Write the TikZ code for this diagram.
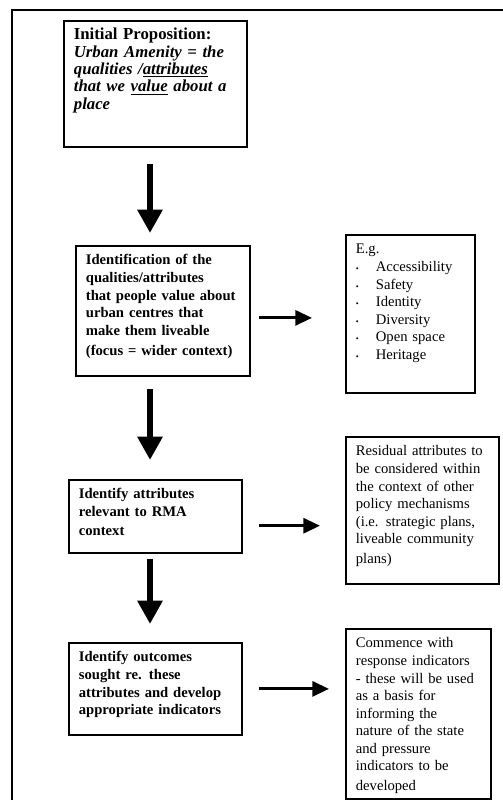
\documentclass[tikz,border=0pt]{standalone}
\usepackage{fontspec}
\setmainfont{Liberation Serif}
\usetikzlibrary{arrows.meta,positioning}
\newcommand{\itm}[1]{\makebox[0.6cm][l]{\scriptsize\textbullet}#1}

\begin{document}
\begin{tikzpicture}[x=0.03cm,y=-0.03cm,font=\fontsize{12.5}{15}\selectfont,
 box/.style={draw,line width=1.5pt,anchor=north west,align=left,inner xsep=0.3cm,inner ysep=0.1cm,text height=0.47cm},
 darr/.style={line width=5pt,-{Triangle[width=0.72cm,length=0.7cm]}},
 rarr/.style={line width=2.6pt,-{Triangle[width=0.45cm,length=0.5cm]}}]
\useasboundingbox (0,0) rectangle (503,800);
\draw[line width=1.5pt] (12,800) -- (12,10) -- (503,10);
% left column
\node[box,text width=4.89cm,text depth=3.11cm,font=\fontsize{14.3}{14.8}\selectfont] (init) at (63,20)
 {\textbf{Initial Proposition:}\\\textbf{\textit{Urban Amenity = the}}\\\textbf{\textit{qualities /\underline{attributes}}}\\\textbf{\textit{that we \underline{value} about a}}\\\textbf{\textit{place}}};
\node[box,text width=4.62cm,text depth=3.23cm] (ident) at (75,245)
 {\textbf{Identification of the}\\\textbf{qualities/attributes}\\\textbf{that people value about}\\\textbf{urban centres that}\\\textbf{make them liveable}\\[0.08cm]\textbf{(focus = wider context)}};
\node[box,text width=4.59cm,text depth=1.52cm] (rma) at (68,479)
 {\textbf{Identify attributes}\\\textbf{relevant to RMA}\\[0.05cm]\textbf{context}};
\node[box,text width=4.59cm,text depth=2.09cm] (outc) at (68,642)
 {\textbf{Identify outcomes}\\\textbf{sought re. these}\\\textbf{attributes and develop}\\\textbf{appropriate indicators}};
% right column
\node[box,text width=3.27cm,text depth=4.07cm] (eg) at (345,234)
 {E.g.\\\itm{Accessibility}\\\itm{Safety}\\\itm{Identity}\\\itm{Diversity}\\\itm{Open space}\\\itm{Heritage}};
\node[box,text width=3.99cm,text depth=3.74cm] (resid) at (345,436)
 {Residual attributes to\\be considered within\\the context of other\\policy mechanisms\\(i.e. strategic plans,\\liveable community\\[0.08cm]plans)};
\node[box,text width=3.75cm,text depth=4.43cm] (comm) at (345,628)
 {Commence with\\response indicators\\- these will be used\\as a basis for\\informing the\\nature of the state\\and pressure\\indicators to be\\[0.06cm]developed};
% arrows
\coordinate (arrx) at (150,0);
\draw[darr,shorten <=0.48cm,shorten >=0.36cm] (init.south -| arrx) -- (ident.north -| arrx);
\draw[darr,shorten <=0.36cm,shorten >=0.57cm] (ident.south -| arrx) -- (rma.north -| arrx);
\draw[darr,shorten <=0.15cm,shorten >=0.54cm] (rma.south -| arrx) -- (outc.north -| arrx);
\draw[rarr,shorten <=0.24cm,shorten >=0.99cm] ([yshift=-0.21cm]ident.east) -- ([yshift=-0.21cm]ident.east -| eg.west);
\draw[rarr,shorten <=0.48cm,shorten >=0.75cm] ([yshift=-0.28cm]rma.east) -- ([yshift=-0.28cm]rma.east -| resid.west);
\draw[rarr,shorten <=0.48cm,shorten >=0.48cm] (outc.east) -- (outc.east -| comm.west);
\end{tikzpicture}
\end{document}
